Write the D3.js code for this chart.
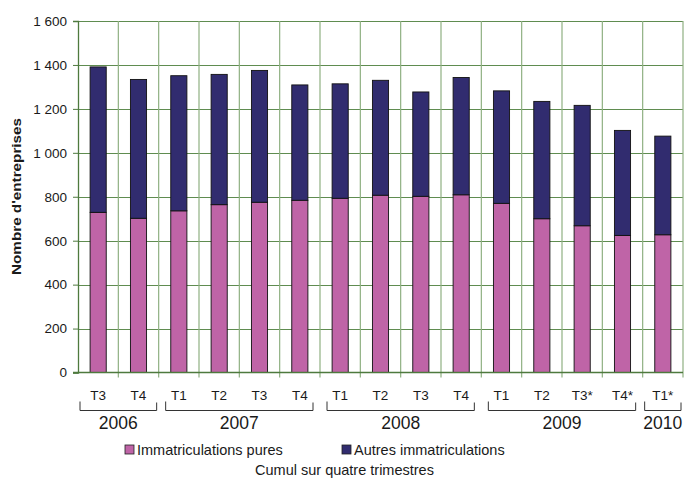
<!DOCTYPE html>
<html>
<head>
<meta charset="utf-8">
<script src="https://cdn.jsdelivr.net/npm/d3@7"></script>
<style>
  body { margin: 0; background: #fff; }
  text { font-family: "Liberation Sans", Arial, sans-serif; fill: #1a1a1a; }
</style>
</head>
<body>
<script>
// quarters (cumul sur quatre trimestres)
const quarters = ["T3", "T4", "T1", "T2", "T3", "T4", "T1", "T2", "T3", "T4", "T1", "T2", "T3*", "T4*", "T1*"];
const years = ["2006", "2007", "2008", "2009", "2010"];
const yearCounts = [2, 4, 4, 4, 1];

const pures  = [729, 702, 736, 764, 775, 784, 793, 807, 802, 809, 770, 700, 668, 624, 627];
const autres = [662, 632, 615, 593, 600, 525, 521, 523, 475, 534, 512, 534, 548, 478, 449];

const yTicks = [0, 200, 400, 600, 800, 1000, 1200, 1400, 1600];
const seriesNames = ["Immatriculations pures", "Autres immatriculations"];
const colors = ["#bf64a7", "#312c6f"];

const w = 685, h = 478;
const pLeft = 78, pRight = 683, pTop = 21, pBottom = 372.5;

const svg = d3.select("body").append("svg")
  .attr("width", w)
  .attr("height", h);

const xScale = d3.scaleBand()
  .domain(d3.range(quarters.length))
  .range([pLeft, pRight])
  .padding(0);

const yScale = d3.scaleLinear()
  .domain([0, 1600])
  .range([pBottom, pTop]);

const fr = d3.formatLocale({ decimal: ",", thousands: " ", grouping: [3], currency: ["", " €"] });

// grid
svg.append("g").selectAll("line")
  .data(yTicks.slice(1))
  .enter().append("line")
  .attr("x1", pLeft).attr("x2", pRight)
  .attr("y1", d => Math.round(yScale(d)) + 0.5)
  .attr("y2", d => Math.round(yScale(d)) + 0.5)
  .attr("stroke", "#5f8c50")
  .attr("stroke-width", 1);

svg.append("g").selectAll("line")
  .data(d3.range(1, quarters.length + 1))
  .enter().append("line")
  .attr("x1", i => i < quarters.length ? xScale(i) : pRight)
  .attr("x2", i => i < quarters.length ? xScale(i) : pRight)
  .attr("y1", pTop)
  .attr("y2", pBottom + 5)
  .attr("stroke", "#8fb082")
  .attr("stroke-width", 1.2);

// stacked bars
const rows = quarters.map((q, i) => ({ i: i, pures: pures[i], autres: autres[i] }));
const stack = d3.stack().keys(["pures", "autres"])(rows);

const barW = xScale.bandwidth() * 0.4;

svg.append("g").selectAll("g")
  .data(stack)
  .enter().append("g")
  .attr("fill", (d, k) => colors[k])
  .selectAll("rect")
  .data(d => d)
  .enter().append("rect")
  .attr("x", d => xScale(d.data.i) + (xScale.bandwidth() - barW) / 2)
  .attr("y", d => yScale(d[1]))
  .attr("width", barW)
  .attr("height", d => yScale(d[0]) - yScale(d[1]))
  .attr("stroke", "#111")
  .attr("stroke-width", 0.9);

// y axis
const yAxis = d3.axisLeft(yScale)
  .tickValues(yTicks)
  .tickFormat(fr.format(","))
  .tickSize(5)
  .tickPadding(6);

const gy = svg.append("g")
  .attr("transform", "translate(" + pLeft + ",0)")
  .call(yAxis);
gy.select(".domain").attr("stroke", "#4e7a3e").attr("stroke-width", 1.3);
gy.selectAll(".tick line").attr("stroke", "#4e7a3e");
gy.selectAll(".tick text")
  .attr("font-size", 13.5)
  .attr("font-family", "Liberation Sans, Arial, sans-serif")
  .attr("fill", "#1a1a1a");

// x baseline
svg.append("line")
  .attr("x1", pLeft - 5).attr("x2", pRight)
  .attr("y1", yScale(0)).attr("y2", yScale(0))
  .attr("stroke", "#4e7a3e")
  .attr("stroke-width", 1.3);

// quarter labels
svg.append("g").selectAll("text")
  .data(quarters)
  .enter().append("text")
  .attr("x", (d, i) => xScale(i) + xScale.bandwidth() / 2)
  .attr("y", 400)
  .attr("text-anchor", "middle")
  .attr("font-size", 13.5)
  .text(d => d);

// year brackets + labels
let start = 0;
const groups = years.map((y, k) => {
  const g = { year: y, x0: xScale(start), x1: xScale(start + yearCounts[k] - 1) + xScale.bandwidth() };
  start += yearCounts[k];
  return g;
});

const inset = g => (g.x1 - g.x0) > 100 ? 7 : 2;

const br = svg.append("g").attr("fill", "none").attr("stroke", "#333").attr("stroke-width", 1);
br.selectAll("path")
  .data(groups)
  .enter().append("path")
  .attr("d", g => {
    const a = g.x0 + inset(g), b = g.x1 - inset(g);
    return "M" + a + ",401.5V410.5H" + b + "V402.5";
  });

svg.append("g").selectAll("text")
  .data(groups)
  .enter().append("text")
  .attr("x", g => (g.x0 + g.x1) / 2)
  .attr("y", 429)
  .attr("text-anchor", "middle")
  .attr("font-size", 17.5)
  .text(g => g.year);

// y title
svg.append("text")
  .attr("transform", "translate(20.5,196.5) rotate(-90)")
  .attr("text-anchor", "middle")
  .attr("font-size", 12.5)
  .attr("font-weight", "bold")
  .attr("textLength", 157)
  .attr("lengthAdjust", "spacingAndGlyphs")
  .text("Nombre d'entreprises");

// legend
const legX = [125, 342];
const leg = svg.append("g").selectAll("g")
  .data(seriesNames)
  .enter().append("g")
  .attr("transform", (d, k) => "translate(" + legX[k] + ",445)");
leg.append("rect")
  .attr("width", 9).attr("height", 9)
  .attr("fill", (d, k) => colors[k])
  .attr("stroke", "#222")
  .attr("stroke-width", 0.8);
leg.append("text")
  .attr("x", 12)
  .attr("y", 10)
  .attr("font-size", 14.5)
  .text(d => d);

svg.append("text")
  .attr("x", 344.5)
  .attr("y", 474.5)
  .attr("text-anchor", "middle")
  .attr("font-size", 14.5)
  .attr("fill", "#222")
  .text("Cumul sur quatre trimestres");
</script>
</body>
</html>
